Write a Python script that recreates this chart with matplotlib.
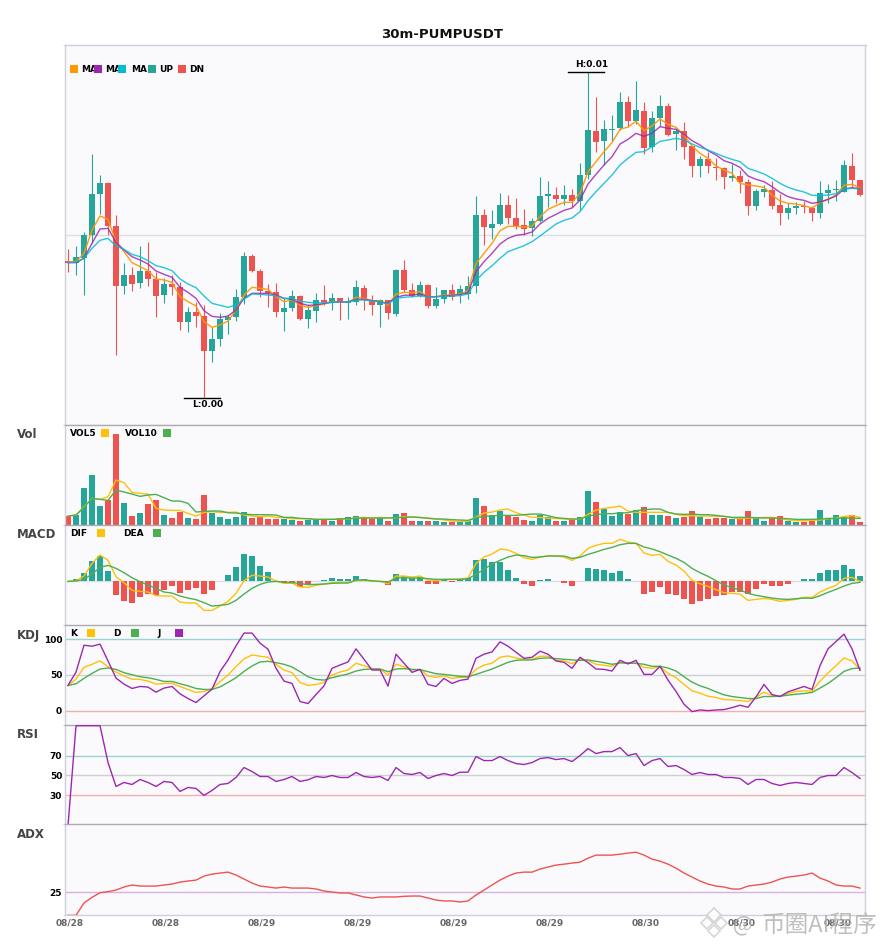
import matplotlib
matplotlib.use('Agg')
import numpy as np
import matplotlib.pyplot as plt
from matplotlib.patches import Rectangle, Polygon

# precios en 1e-6 USDT
opens = [5337,5332,5345,5415,5538,5571,5442,5262,5295,5271,5307,5283,5235,5268,5259,5154,5184,5172,5067,5103,
         5160,5169,5229,5352,5307,5247,5244,5184,5196,5232,5163,5187,5220,5213,5226,5212,5215,5256,5217,5205,
         5220,5178,5310,5250,5232,5265,5202,5223,5250,5238,5238,5262,5475,5436,5448,5505,5466,5445,5436,5457,
         5532,5535,5523,5535,5517,5595,5727,5697,5730,5736,5814,5757,5787,5679,5766,5802,5718,5727,5682,5622,
         5643,5619,5616,5586,5592,5574,5502,5544,5550,5505,5481,5496,5502,5496,5481,5541,5550,5544,5622,5580]
closes = [5332,5349,5415,5538,5571,5442,5262,5295,5268,5307,5283,5232,5268,5259,5154,5184,5172,5067,5103,5163,
          5168,5229,5352,5307,5248,5240,5184,5196,5232,5163,5190,5220,5213,5226,5214,5215,5259,5220,5205,5219,
          5181,5310,5250,5232,5265,5202,5223,5250,5230,5253,5262,5475,5439,5448,5505,5466,5442,5433,5457,5532,
          5538,5523,5535,5517,5595,5730,5694,5733,5733,5814,5757,5790,5676,5766,5802,5715,5727,5679,5622,5643,
          5622,5616,5589,5592,5574,5502,5547,5553,5502,5481,5496,5502,5499,5481,5541,5550,5553,5625,5580,5535]
highs = [5372,5382,5423,5658,5595,5574,5475,5331,5320,5382,5395,5304,5286,5295,5274,5199,5214,5205,5138,5180,
         5175,5253,5364,5358,5313,5268,5271,5225,5250,5235,5205,5241,5265,5241,5226,5230,5280,5265,5235,5223,
         5220,5313,5340,5271,5277,5268,5259,5250,5268,5265,5292,5532,5493,5490,5541,5535,5526,5493,5466,5589,
         5577,5559,5565,5553,5631,5905,5829,5760,5775,5844,5832,5877,5814,5787,5835,5811,5736,5754,5682,5652,
         5664,5646,5619,5628,5610,5583,5553,5565,5577,5538,5511,5514,5517,5502,5577,5568,5580,5640,5661,5580]
lows = [5305,5296,5235,5390,5478,5415,5055,5238,5247,5256,5262,5169,5211,5235,5130,5124,5139,4927,5034,5082,
        5118,5157,5208,5304,5229,5199,5169,5127,5187,5160,5136,5154,5205,5190,5160,5163,5205,5190,5175,5139,
        5163,5172,5244,5230,5229,5196,5196,5211,5220,5211,5223,5241,5385,5403,5445,5448,5433,5415,5412,5454,
        5499,5511,5505,5499,5490,5583,5664,5625,5697,5730,5740,5748,5658,5664,5742,5712,5670,5643,5589,5589,
        5601,5580,5553,5577,5541,5475,5490,5529,5493,5445,5463,5478,5481,5457,5466,5511,5517,5544,5559,5532]

ma_fast = [5334,5336,5360,5430,5472,5462,5395,5365,5332,5320,5308,5283,5280,5273,5230,5215,5202,5155,5138,5145,
           5157,5190,5235,5258,5255,5252,5230,5215,5220,5205,5198,5203,5208,5215,5214,5213,5228,5225,5218,5218,
           5204,5238,5243,5242,5245,5230,5229,5235,5235,5238,5248,5330,5360,5390,5428,5441,5441,5439,5442,5470,
           5492,5503,5513,5513,5540,5605,5635,5665,5692,5732,5739,5756,5728,5742,5763,5747,5738,5715,5682,5660,
           5645,5622,5610,5600,5570,5565,5562,5558,5535,5517,5510,5508,5503,5496,5512,5522,5535,5564,5567,5556]
ma_mid = [5332,5332,5345,5390,5433,5435,5393,5370,5350,5340,5328,5307,5297,5288,5258,5243,5225,5188,5171,5168,
          5172,5190,5225,5240,5240,5240,5235,5225,5222,5210,5204,5205,5210,5213,5214,5214,5222,5222,5218,5215,
          5210,5228,5234,5235,5238,5230,5230,5232,5234,5236,5242,5305,5335,5360,5388,5405,5414,5417,5424,5448,
          5465,5477,5489,5496,5520,5568,5597,5625,5650,5688,5702,5720,5711,5720,5740,5735,5732,5717,5698,5685,
          5668,5655,5638,5630,5618,5592,5582,5575,5560,5543,5530,5523,5519,5510,5514,5522,5532,5553,5557,5554]
ma_slow = [5332,5334,5345,5375,5399,5405,5382,5372,5357,5350,5338,5323,5317,5308,5283,5268,5257,5232,5210,5204,
           5198,5205,5222,5238,5237,5235,5232,5225,5225,5217,5213,5211,5212,5213,5214,5214,5220,5220,5217,5215,
           5208,5225,5228,5230,5232,5229,5230,5231,5232,5233,5238,5278,5303,5323,5345,5365,5374,5383,5395,5412,
           5430,5448,5459,5466,5485,5518,5545,5570,5595,5625,5645,5663,5665,5680,5696,5700,5705,5700,5688,5678,
           5670,5660,5650,5642,5635,5615,5607,5598,5585,5570,5558,5550,5544,5534,5534,5535,5539,5553,5555,5553]

volume = [26,29,110,149,56,74,272,65,26,35,62,74,29,20,38,20,17,89,35,23,17,23,38,20,23,17,17,17,14,11,14,14,14,11,20,
          23,26,23,17,20,11,32,35,11,11,11,11,8,8,8,11,80,56,29,41,26,23,14,11,29,23,11,11,14,23,101,68,47,26,38,
          32,44,53,29,29,26,20,23,41,23,17,20,20,17,20,41,23,11,20,26,11,8,8,11,44,17,29,23,29,8]
vol5 = [26,29,54,79,76,84,134,126,97,94,92,49,44,43,43,34,26,37,39,37,37,38,29,26,24,26,22,21,18,18,18,16,16,16,17,
        17,20,22,20,22,21,21,24,23,21,20,18,14,11,10,10,23,35,38,44,47,36,29,22,22,19,19,17,16,16,31,44,49,52,56,
        41,37,37,37,37,37,31,27,27,25,26,25,25,21,18,20,20,22,22,19,14,12,12,13,14,18,19,25,27,22]
vol10 = [26,29,52,79,76,73,104,98,92,85,89,91,81,71,71,64,38,40,41,41,36,35,32,30,30,30,29,22,22,19,18,16,16,16,17,
         18,19,20,20,20,20,21,22,23,22,19,17,17,15,14,13,21,25,26,28,28,28,30,32,32,27,21,19,17,17,26,30,33,33,35,
         36,42,45,47,47,37,32,31,32,30,30,28,25,22,22,22,21,20,20,19,18,16,16,16,17,19,18,21,19,19]

macd_hist = [0,6,25,61,76,31,-41,-59,-65,-47,-38,-41,-26,-14,-35,-26,-20,-38,-26,0,19,43,82,76,46,28,0,-6,-6,-16,
             -8,0,4,10,7,7,16,7,0,0,-11,22,16,10,13,-8,-8,4,-2,7,10,64,67,58,58,34,10,-8,-14,4,
             7,0,-5,-14,0,40,37,34,25,31,7,0,-38,-32,-17,-38,-41,-53,-68,-59,-53,-44,-41,-32,-32,-38,-23,-8,-14,-14,
             -8,0,7,7,25,34,34,49,37,16]
dif = [0,2,16,54,79,63,14,-4,-27,-30,-32,-43,-44,-44,-62,-65,-65,-87,-87,-74,-60,-36,2,18,16,13,1,-6,-5,-17,
       -18,-12,-8,-4,-3,-3,2,3,0,0,-7,16,16,13,16,4,2,6,6,7,10,54,73,82,97,94,84,71,66,73,
       77,76,73,63,76,99,108,114,114,126,118,114,85,78,81,60,49,31,3,-7,-15,-25,-34,-36,-38,-57,-54,-51,-54,-60,
       -57,-54,-48,-48,-32,-21,-12,9,12,0]
dea = [0,1,6,22,42,48,39,26,11,-1,-11,-21,-32,-35,-44,-50,-55,-64,-74,-72,-69,-57,-38,-21,-9,-2,0,-3,-4,-6,
       -10,-9,-8,-6,-5,-5,4,4,2,0,-2,10,11,10,10,8,6,6,6,6,8,21,36,52,63,73,79,77,72,73,
       76,76,76,69,72,81,88,96,102,110,114,114,103,97,89,79,69,57,39,26,15,2,-11,-19,-26,-36,-42,-46,-50,-53,
       -54,-52,-50,-51,-43,-33,-24,-14,-6,-3]

kdj_k = [35.2,44.1,60.6,64.8,69.5,61.5,54,48.4,44.1,43.7,41.3,37.1,38,38,33.8,29.6,25.4,26.8,31,40.4,
         49.8,61.5,72.3,77.9,76.1,74.6,64.8,56.8,53.1,39.4,35.2,36.6,39.4,49.8,54,56.8,66.2,62.9,58.7,58.2,
         49.8,64.8,61.5,56.8,57.7,48.4,46.5,48.8,45.1,46.5,46.9,57.7,63.8,66.2,74.6,76.5,73.7,71.8,71.8,76.1,
         76.1,70.4,69.5,65.7,71.8,70,64.8,63.4,62,67.6,66.2,66.2,60.6,59.2,61.5,52.1,46,36.6,27.7,24.4,
         20.2,18.3,15.5,15,14.1,12.7,18.8,25.8,21.1,19.7,23.9,26.8,27.7,27.2,41.3,52.6,62.9,73.7,69.5,57.7]
kdj_d = [35.2,37.6,45.1,52.1,58.2,59.6,57.7,53.1,50.2,47.4,46,43.7,40.8,40.8,37.6,34.7,31,29.6,29.6,33.3,
         39.4,46,54.9,62.4,68.1,69,67.1,64.8,61,54.5,47.4,43.7,42.7,46,48.8,51.2,55.4,57.7,58.2,58.2,
         54.5,58.2,58.7,57.7,57.3,54.5,51.6,50.7,49.3,47.9,47.4,50.7,54.5,58.2,62.9,67.6,70.4,70.9,70.9,73.2,
         73.7,72.8,71.8,70.9,70.4,70.9,69,67.1,64.8,66.7,66.7,66.2,64.8,62,62,59.6,55.4,47.4,39.9,34.7,
         31,26.3,22.1,19.7,18.3,16.9,16.9,19.7,19.7,20.2,21.6,23,23.9,25.4,31.5,38,46,54.9,58.7,59.6]
kdj_j = [35.2,54,91.5,90.1,93,69.5,45.5,37.1,31,33.8,32.9,25.8,31.5,33.8,23.5,16.9,11.3,20.7,30,54.5,
         70.9,90.6,108.5,108.5,94.4,85.9,59.2,41.3,38,12.7,9.9,22.5,34.7,59.2,63.8,68.1,86.4,71.8,56.8,56.8,
         34.3,78.9,66.2,53.5,57.7,36.6,33.8,45.1,38,42.3,44.1,73.2,78.9,82.2,96.2,90.1,81.7,73.2,74.6,83.1,
         78.9,69.5,67.6,59.2,74.6,67.1,58.2,57.7,55.4,70.4,65.3,70.4,50.7,50.7,62,42.7,26.8,8.9,-1.4,0.9,
         0,0.9,1.4,4.2,7.5,4.7,19.2,36.6,22.5,19.7,26.3,30,33.8,29.6,62.9,86.4,96.7,107,86.4,56.3]

rsi = [0,100,100,100,100,63,39,43,41,46,43,39,44,43,34,38,37,30,35,41,42,48,58,54,49,49,44,46,49,44,
       45.7,49,48,50,48,48,53,49,48,49,45,58,52,51,53,47,50,52,50,53.3,53.3,69,65,65,69,65,62,61,63,67,
       68,66,67,64,70,77,72,74,74,78,70,72,60,65,67,59,60,56,51,53,51,51,48,48,47,41,46,46,42,40,
       42,43,42,41,48,50,50,58,53,47]

adx = [7.5,7.5,16.8,21,24.5,25.3,26.5,28.8,30.3,29.5,29.5,29.5,30.3,31,32.5,33.3,34,37,38.5,39.3,
       40,37.8,34.8,31.8,29.5,28.8,28,28.8,28,28,28,27.3,25.8,25,24.3,24.3,22.8,21.3,20.5,21.3,
       21.3,21.3,21.8,22,22,20.5,19,18.3,18.3,17.5,18.3,22.8,26.5,30.3,34,37,39.3,40,40,42.3,
       43.8,45.3,46,46.8,47.5,50.5,52.8,52.8,52.8,53.5,54.3,55,52.8,49.8,48.3,46,43,39.3,36.3,33.3,
       31,29.5,28.8,27.3,27.3,29.5,30.3,31,32.5,34.8,36.3,37,37.8,39.3,35.5,33.3,30.3,29.5,29.5,28]

x_labels = ['08/28','08/28','08/29','08/29','08/29','08/29','08/30','08/30','08/30']

W, H = 885, 950
UP, DN = '#26A69A', '#EF5350'
YEL, GRN, PUR = '#FFC107', '#4CAF50', '#9C27B0'
BG = '#FAFAFD'
EDGE, DIV = '#CFCFDA', '#ABABB0'
LW = 1.0

x = np.arange(len(opens))
opens, closes, highs, lows = map(np.array, (opens, closes, highs, lows))
colores = np.where(closes >= opens, UP, DN)

fig = plt.figure(figsize=(W/100, H/100), dpi=100, facecolor='white')

def panel(top, bottom, ylim):
    ax = fig.add_axes([65.3/W, 1-bottom/H, 800/W, (bottom-top)/H], facecolor=BG)
    ax.set_xlim(-0.34, 99.66)
    ax.set_ylim(*ylim)
    ax.set_xticks([])
    ax.set_yticks([])
    ax.set_yticks(list(ylim), minor=True)
    ax.tick_params(which='minor', length=1.5, color=EDGE, left=True, right=True, labelleft=False)
    ax.tick_params(which='major', length=0, pad=2.2, labelsize=6.5)
    for s in ax.spines.values():
        s.set_color(EDGE)
        s.set_linewidth(1)
    ax.spines['top'].set_color(DIV)
    ax.spines['bottom'].set_visible(False)
    return ax

def txt(px, py, s, **kw):
    kw.setdefault('fontweight', 'bold')
    kw.setdefault('fontsize', 6.5)
    kw.setdefault('va', 'center')
    return fig.text(px/W, 1-py/H, s, **kw)

def square(px, py, color, size=8):
    fig.add_artist(Rectangle((px/W, 1-(py+size/2)/H), size/W, size/H, transform=fig.transFigure,
                             facecolor=color, edgecolor='none', zorder=6))

# velas
ax = panel(45, 425, (4845, 5985))
ax.spines['top'].set_color(EDGE)
ax.spines['bottom'].set_visible(True)
ax.axhline(5415, color='#DEDEE2', lw=1, zorder=1)
ax.vlines(x, lows, highs, colors=colores, lw=0.8, zorder=2)
ax.bar(x, np.abs(closes-opens), bottom=np.minimum(opens, closes), width=0.75, color=colores, zorder=3)
ax.plot(x, ma_fast, color='#FF9800', lw=LW, alpha=0.95, zorder=4)
ax.plot(x, ma_mid, color=PUR, lw=LW, alpha=0.85, zorder=4)
ax.plot(x, ma_slow, color='#00BCD4', lw=LW, alpha=0.85, zorder=4)

i_hi, i_lo = int(np.argmax(highs)), int(np.argmin(lows))
ax.plot([i_hi-2.5, i_hi+2], [highs[i_hi]]*2, color='black', lw=1, zorder=5)
ax.text(i_hi+0.5, highs[i_hi]+7, 'H:0.01', fontsize=6.5, fontweight='bold', ha='center', va='bottom')
ax.plot([i_lo-2.5, i_lo+2], [lows[i_lo]]*2, color='black', lw=1, zorder=5)
ax.text(i_lo+0.4, lows[i_lo]-7, 'L:0.00', fontsize=6.5, fontweight='bold', ha='center', va='top')

for px, col in [(70, '#FF9800'), (94, PUR), (118, '#00BCD4'), (148, UP), (178, DN)]:
    square(px, 69, col)
for px, s in [(81, 'MA'), (105, 'MA'), (131.5, 'MA'), (159, 'UP'), (189, 'DN')]:
    txt(px, 69, s)

# volumen
ax = panel(424.7, 524.7, (0, 300))
ax.bar(x, volume, width=0.75, color=colores, zorder=2)
ax.plot(x, vol5, color=YEL, lw=LW, zorder=3)
ax.plot(x, vol10, color=GRN, lw=LW, zorder=3)
txt(70, 433.5, 'VOL5')
square(101, 433, YEL)
txt(125, 433.5, 'VOL10')
square(163, 433, GRN)

# macd
ax = panel(524.7, 624.7, (-130, 170))
ax.axhline(0, color='#DEDEE2', lw=1, zorder=1)
ax.bar(x, macd_hist, width=0.75, color=[UP if v >= 0 else DN for v in macd_hist], zorder=2)
ax.plot(x, dif, color=YEL, lw=LW, zorder=3)
ax.plot(x, dea, color=GRN, lw=LW, zorder=3)
txt(70, 533.5, 'DIF')
square(97, 533, YEL)
txt(123, 533.5, 'DEA')
square(153, 533, GRN)

# kdj
ax = panel(624.7, 724.7, (-19.7, 120.2))
ax.axhline(100, color=UP, alpha=0.45, lw=1, zorder=1)
ax.axhline(50, color='#CFCFD2', lw=1, zorder=1)
ax.axhline(0, color=DN, alpha=0.45, lw=1, zorder=1)
ax.plot(x, kdj_k, color=YEL, lw=LW, zorder=3)
ax.plot(x, kdj_d, color=GRN, lw=LW, zorder=3)
ax.plot(x, kdj_j, color=PUR, lw=LW, zorder=3)
ax.set_yticks([0, 50, 100], ['0', '50', '100'], fontweight='bold')
txt(70, 633.5, 'K')
square(87, 633, YEL)
txt(113, 633.5, 'D')
square(131, 633, GRN)
txt(157, 633.5, 'J')
square(175, 633, PUR)

# rsi
ax = panel(724.7, 824.3, (1, 101))
ax.axhline(70, color=UP, alpha=0.45, lw=1, zorder=1)
ax.axhline(50, color='#CFCFD2', lw=1, zorder=1)
ax.axhline(30, color=DN, alpha=0.45, lw=1, zorder=1)
ax.plot(x, rsi, color=PUR, lw=LW, zorder=3)
ax.set_yticks([30, 50, 70], ['30', '50', '70'], fontweight='bold')

# adx
ax = panel(824.3, 915.3, (7.5, 76))
ax.spines['bottom'].set_visible(True)
ax.axhline(25, color=PUR, alpha=0.35, lw=1, zorder=1)
ax.plot(x, adx, color=DN, lw=LW, zorder=3)
ax.set_yticks([25], ['25'], fontweight='bold')
# las etiquetas quedan un poco a la derecha de la vela
ax.set_xticks(x[::12]+0.25, x_labels, fontsize=6.5, fontweight='bold', color='#666666')
ax.tick_params(axis='x', length=0, pad=2)

for py, s in [(435, 'Vol'), (535, 'MACD'), (635, 'KDJ'), (735, 'RSI'), (835, 'ADX')]:
    txt(17, py, s, fontsize=8.5, color='#444444')
txt(442.5, 34, '30m-PUMPUSDT', fontsize=9.5, ha='center', color='#111111')

# marca de agua
for cx, cy, r in [(714, 915, 7), (707, 923, 6), (721, 923, 6), (714, 931, 6)]:
    pts = [(cx/W, 1-(cy-r)/H), ((cx+r)/W, 1-cy/H), (cx/W, 1-(cy+r)/H), ((cx-r)/W, 1-cy/H)]
    fig.add_artist(Polygon(pts, closed=True, transform=fig.transFigure, facecolor='white',
                           edgecolor='#CFCFCF', lw=1.2, alpha=0.85, zorder=7))
fig.text(733/W, 1-925/H, '@', family=['Noto Sans CJK SC', 'DejaVu Sans'], fontsize=15, color='#B0B0B0',
         alpha=0.8, va='center', zorder=7)
fig.text(761/W, 1-925/H, '币圈AI程序', family=['Noto Sans CJK SC', 'DejaVu Sans'], fontsize=17, color='#B0B0B0',
         alpha=0.8, va='center', zorder=7)

fig.savefig('out.png', dpi=100)
